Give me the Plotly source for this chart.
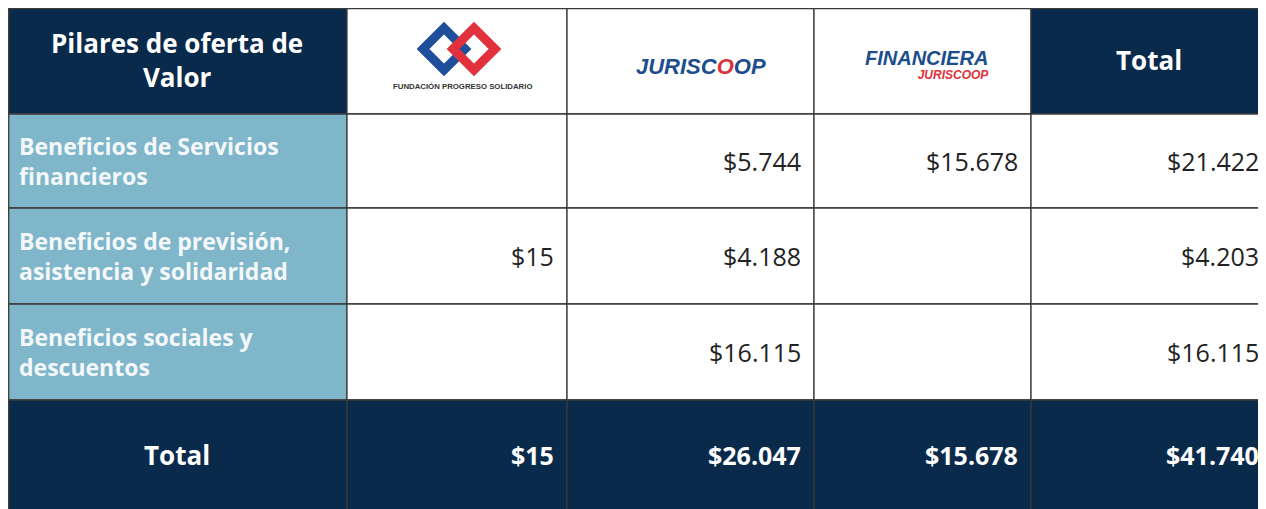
import plotly.graph_objects as go

# ---- data ----
header_title = "Pilares de oferta de<br>Valor"
header_total = "Total"
row_labels = [
    "Beneficios de Servicios<br>financieros",
    "Beneficios de previsión,<br>asistencia y solidaridad",
    "Beneficios sociales y<br>descuentos",
]
fundacion = [None, 15, None]
juriscoop = [5744, 4188, 16115]
financiera = [15678, None, None]
total_col = [21422, 4203, 16115]
total_label = "Total"
total_row = [15, 26047, 15678, 41740]

# ---- layout constants (page pixel coordinates) ----
W, H = 1266, 509
BODY = 8  # default page margin of the html body
col_edges = [8.7, 347, 567, 814, 1031, 1272]
row_edges = [8.7, 114, 208, 304, 400, 512]
NAVY = "#0a2a4b"
LIGHT = "#7fb6ca"
GRID = "#3a3a3a"
FONT = "Open Sans"


def fmt(v):
    return "" if v is None else "$" + f"{v:,}".replace(",", ".")


fig = go.Figure()
shapes = []
annotations = []

n_rows = len(row_labels)
value_cols = [fundacion, juriscoop, financiera, total_col]


def cell(ci, ri, fill):
    shapes.append(dict(type="rect", xref="x", yref="y",
                       x0=col_edges[ci], x1=col_edges[ci + 1],
                       y0=row_edges[ri], y1=row_edges[ri + 1],
                       fillcolor=fill, line=dict(color=GRID, width=1.3),
                       layer="below"))


for ci in range(5):
    cell(ci, 0, NAVY if ci in (0, 4) else "white")
for ri in range(n_rows):
    for ci in range(5):
        cell(ci, ri + 1, LIGHT if ci == 0 else "white")
for ci in range(5):
    cell(ci, n_rows + 1, NAVY)


def ctr(edges, i):
    return (edges[i] + edges[i + 1]) / 2


# header texts
annotations.append(dict(x=(6 + 347) / 2, y=59.5, text=f"<b>{header_title}</b>",
                        showarrow=False, font=dict(family=FONT, size=26, color="white"),
                        xanchor="center", yanchor="middle", align="center"))
annotations.append(dict(x=ctr(col_edges, 4) - 3, y=60, text=f"<b>{header_total}</b>",
                        showarrow=False, font=dict(family=FONT, size=26, color="white"),
                        xanchor="center", yanchor="middle"))

# logo: Fundación Progreso Solidario (icon + name)
fx = ctr(col_edges, 1)


def diamond(cx, cy, r):
    return f"M {cx - r},{cy} L {cx},{cy - r} L {cx + r},{cy} L {cx},{cy + r} Z"


shapes.append(dict(type="path", xref="x", yref="y", path=diamond(fx - 13, 49, 21),
                   line=dict(color="#1f4f9c", width=9), fillcolor="rgba(0,0,0,0)"))
shapes.append(dict(type="path", xref="x", yref="y", path=diamond(fx + 17, 49, 21),
                   line=dict(color="#e2303c", width=9), fillcolor="rgba(0,0,0,0)"))
annotations.append(dict(x=fx + 5, y=86, text="<b>FUNDACIÓN PROGRESO SOLIDARIO</b>", showarrow=False,
                        font=dict(family="Liberation Sans", size=7.8, color="#333333"),
                        xanchor="center", yanchor="middle"))

# logo: Juriscoop
annotations.append(dict(x=701, y=66,
                        text="<b><i>JURISC<span style='color:#d8343c'>O</span>OP</i></b>",
                        showarrow=False, font=dict(family="Liberation Sans", size=22, color="#1c4d8c"),
                        xanchor="center", yanchor="middle"))

# logo: Financiera Juriscoop
annotations.append(dict(x=991, y=64,
                        text="<span style='font-size:20px;color:#1c4d8c'><b><i>FINANCIERA</i></b></span>"
                             "<br><span style='font-size:12px'><b><i>JURISCOOP</i></b></span>",
                        showarrow=False, font=dict(family="Liberation Sans", size=11, color="#e0303a"),
                        xanchor="right", yanchor="middle", align="right"))

# body texts
for ri, lab in enumerate(row_labels):
    yc = ctr(row_edges, ri + 1)
    annotations.append(dict(x=17, y=yc, text=f"<b>{lab}</b>", showarrow=False,
                            font=dict(family=FONT, size=23, color="#f4f8fa"),
                            xanchor="left", yanchor="middle", align="left"))
    for ci, col in enumerate(value_cols):
        txt = fmt(col[ri])
        if txt:
            annotations.append(dict(x=col_edges[ci + 2] - 11, y=yc, text=txt, showarrow=False,
                                    font=dict(family=FONT, size=25, color="#222222"),
                                    xanchor="right", yanchor="middle"))

# total row
yt = (row_edges[-2] + 509) / 2
annotations.append(dict(x=(6 + 347) / 2, y=yt, text=f"<b>{total_label}</b>", showarrow=False,
                        font=dict(family=FONT, size=26, color="white"),
                        xanchor="center", yanchor="middle"))
for ci, v in enumerate(total_row):
    annotations.append(dict(x=col_edges[ci + 2] - 11, y=yt, text=f"<b>{fmt(v)}</b>", showarrow=False,
                            font=dict(family=FONT, size=25, color="white"),
                            xanchor="right", yanchor="middle"))

for a in annotations:
    a.setdefault("xref", "x")
    a.setdefault("yref", "y")

fig.update_layout(
    width=W - BODY, height=H - BODY,
    margin=dict(l=0, r=0, t=0, b=0),
    paper_bgcolor="white", plot_bgcolor="white",
    xaxis=dict(range=[BODY, W], visible=False, fixedrange=True),
    yaxis=dict(range=[H, BODY], visible=False, fixedrange=True),
    shapes=shapes, annotations=annotations, showlegend=False,
)
fig.write_html("out.html", config={"displayModeBar": False})
